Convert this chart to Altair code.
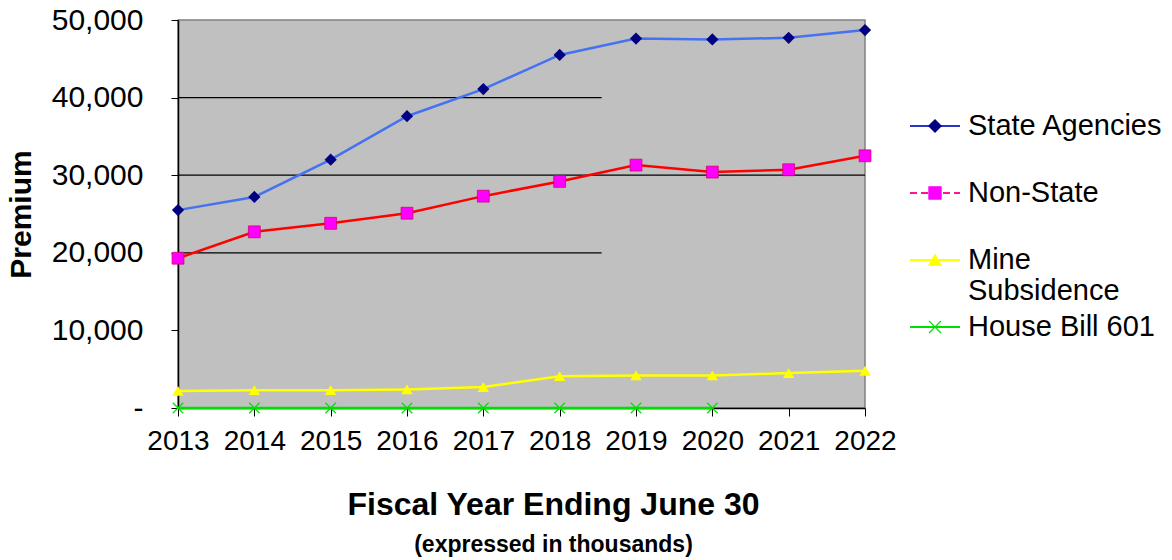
import altair as alt
import pandas as pd

# ---- data ----
years = [2013, 2014, 2015, 2016, 2017, 2018, 2019, 2020, 2021, 2022]
state_agencies = [25500, 27200, 32000, 37600, 41100, 45500, 47600, 47500, 47700, 48700]
non_state = [19300, 22700, 23800, 25100, 27300, 29200, 31300, 30400, 30700, 32500]
mine_subsidence = [2200, 2300, 2300, 2400, 2700, 4100, 4200, 4200, 4500, 4800]
house_bill_years = [2013, 2014, 2015, 2016, 2017, 2018, 2019, 2020]
house_bill_601 = [0, 0, 0, 0, 0, 0, 0, 0]

series_names = ["State Agencies", "Non-State", "Mine Subsidence", "House Bill 601"]
legend_first_line = ["State Agencies", "Non-State", "Mine", "House Bill 601"]
legend_second_line = ["", "", "Subsidence", ""]
y_ticks = [0, 10000, 20000, 30000, 40000, 50000]
grid_values = [20000, 30000, 40000]
grid_starts = [2013, 2013, 2013]
grid_ends = [2018.55, 2022, 2018.55]

# ---- styles ----
line_colors = ["#4472F0", "#FF0000", "#FFFF00", "#00E000"]
legend_line_colors = ["#2536C8", "#FF1493", "#FFFF00", "#00E000"]
legend_dashes = [[1, 0], [7, 4], [1, 0], [1, 0]]
marker_colors = ["#000080", "#FF00FF", "#FFFF00", "#00E000"]
X_PATH = "M-1,-1L1,1M1,-1L-1,1"
marker_shapes = ["diamond", "square", "triangle-up", X_PATH]
marker_sizes = [150, 140, 130, 110]

rows = []
for name, vals, yrs in zip(
    series_names,
    [state_agencies, non_state, mine_subsidence, house_bill_601],
    [years, years, years, house_bill_years],
):
    for yr, v in zip(yrs, vals):
        rows.append({"Year": yr, "Premium": v, "Series": name})
df = pd.DataFrame(rows)
grid_df = pd.DataFrame({"Premium": grid_values, "Year": grid_starts, "YearEnd": grid_ends})
legend_df = pd.DataFrame({
    "Series": series_names,
    "first_line": legend_first_line,
    "second_line": legend_second_line,
})

FONT = "Liberation Sans"
x_scale = alt.Scale(domain=[years[0], years[-1]], nice=False, zero=False)
y_scale = alt.Scale(domain=[y_ticks[0], y_ticks[-1]], nice=False)

x_enc = alt.X(
    "Year:Q",
    scale=x_scale,
    title=None,
    axis=alt.Axis(
        values=years, format="d", grid=False, tickSize=8, tickColor="black",
        domainColor="black", domainWidth=1.5, labelFontSize=28, labelColor="black",
        labelFont=FONT, labelPadding=11, labelFlush=False, labelOverlap=False,
    ),
)
y_enc = alt.Y(
    "Premium:Q",
    scale=y_scale,
    title="Premium",
    axis=alt.Axis(
        values=y_ticks, grid=False, tickSize=7, tickColor="black",
        domainColor="black", domainWidth=1.5, labelFontSize=30, labelColor="black",
        labelFont=FONT, labelPadding=28,
        labelExpr="datum.value == 0 ? '-' : format(datum.value, ',')",
        titleFontSize=30, titleFont=FONT, titleFontWeight="bold", titleColor="black",
        titlePadding=15,
    ),
)

grid = alt.Chart(grid_df).mark_rule(color="black", strokeWidth=1.2).encode(
    x=x_enc, x2="YearEnd:Q", y=y_enc,
)

base = alt.Chart(df)

lines = base.mark_line(strokeWidth=2.5).encode(
    x=x_enc,
    y=y_enc,
    color=alt.Color("Series:N", scale=alt.Scale(domain=series_names, range=line_colors), legend=None),
)

point_layers = []
for i, name in enumerate(series_names):
    if marker_shapes[i] == X_PATH:
        mk = dict(shape=X_PATH, filled=False, color=marker_colors[i],
                  strokeWidth=1.2, size=marker_sizes[i], opacity=1)
    elif marker_shapes[i] == "square":
        mk = dict(shape="square", filled=True, fill=marker_colors[i],
                  stroke="#D0006F", strokeWidth=0.8, size=marker_sizes[i], opacity=1)
    else:
        mk = dict(shape=marker_shapes[i], filled=True,
                  color=marker_colors[i], size=marker_sizes[i], opacity=1)
    point_layers.append(
        base.transform_filter(alt.datum.Series == name).mark_point(**mk).encode(
            x=x_enc, y=y_enc
        )
    )

main = alt.layer(grid, lines, *point_layers).properties(
    width=687,
    height=388,
    view=alt.ViewBackground(fill="#C0C0C0", stroke="#808080", strokeWidth=1.5),
    title=alt.TitleParams(
        text="Fiscal Year Ending June 30",
        subtitle="(expressed in thousands)",
        orient="bottom", anchor="middle", dx=32,
        font=FONT, fontSize=32, fontWeight="bold", color="black",
        subtitleFont=FONT, subtitleFontSize=23, subtitleFontWeight="bold",
        subtitleColor="black", subtitlePadding=12, offset=35,
    ),
)

# ---- legend panel, drawn from the series list ----
leg_y = alt.Y("Series:N",
              scale=alt.Scale(type="point", domain=series_names, range=[106, 307], padding=0),
              axis=None)
leg_base = alt.Chart(legend_df)
leg_lines = leg_base.mark_rule(strokeWidth=2).encode(
    x=alt.value(0), x2=alt.value(50), y=leg_y,
    color=alt.Color("Series:N", scale=alt.Scale(domain=series_names, range=legend_line_colors),
                    legend=None),
    strokeDash=alt.StrokeDash("Series:N", scale=alt.Scale(domain=series_names, range=legend_dashes),
                              legend=None),
)
leg_marks = leg_base.mark_point(filled=True, opacity=1, strokeWidth=1.2).encode(
    x=alt.value(25), y=leg_y,
    shape=alt.Shape("Series:N", scale=alt.Scale(domain=series_names, range=marker_shapes),
                    legend=None),
    fill=alt.Fill("Series:N", scale=alt.Scale(domain=series_names, range=marker_colors),
                  legend=None),
    stroke=alt.Stroke("Series:N", scale=alt.Scale(domain=series_names, range=marker_colors),
                      legend=None),
    size=alt.Size("Series:N", scale=alt.Scale(domain=series_names, range=[150, 144, 120, 110]),
                  legend=None),
)
leg_text1 = leg_base.mark_text(align="left", baseline="middle", font=FONT, fontSize=29,
                               color="black").encode(
    x=alt.value(58), y=leg_y, text="first_line:N",
)
leg_text2 = leg_base.mark_text(align="left", baseline="middle", font=FONT, fontSize=29,
                               color="black", dy=31).encode(
    x=alt.value(58), y=leg_y, text="second_line:N",
)
legend_panel = alt.layer(leg_lines, leg_marks, leg_text1, leg_text2).properties(
    width=250,
    height=388,
    view=alt.ViewBackground(fill="transparent", stroke="transparent"),
)

chart = (
    alt.hconcat(main, legend_panel, spacing=45, bounds="flush")
    .resolve_scale(x="independent", y="independent", color="independent",
                   fill="independent", stroke="independent", shape="independent",
                   size="independent", strokeDash="independent")
    .properties(padding={"left": 5, "top": 4, "right": 0, "bottom": 0})
)

chart.save("out.html", embed_options={"renderer": "svg", "actions": False})
